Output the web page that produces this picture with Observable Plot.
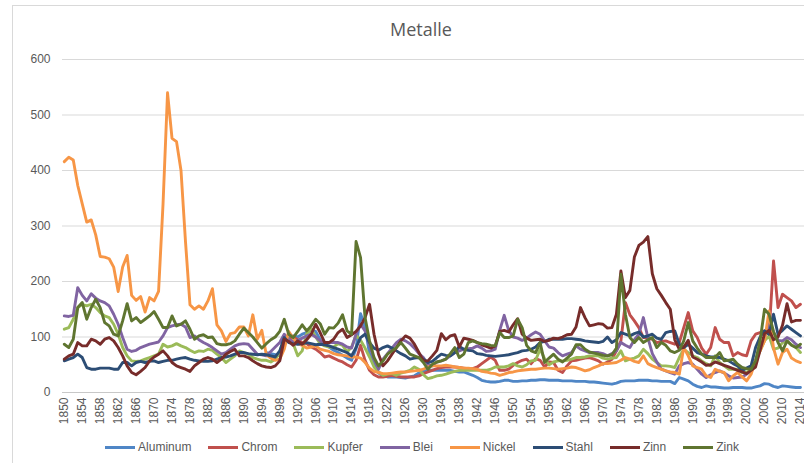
<!DOCTYPE html>
<html>
<head>
<meta charset="utf-8">
<script src="https://cdn.jsdelivr.net/npm/d3@7"></script>
<script src="https://cdn.jsdelivr.net/npm/@observablehq/plot@0.6"></script>
<style>
  body { margin: 0; background: #fff; }
  #chart { position: relative; width: 804px; height: 463px; overflow: hidden;
           font-family: "Liberation Sans", Arial, sans-serif; color: #595959; background: #fff; }
  #frame { position: absolute; left: 12px; top: 5px; width: 900px; height: 600px;
           border: 1px solid #d9d9d9; box-sizing: border-box; }
  #title { position: absolute; left: 0; width: 842px; top: 17px; text-align: center;
           font-family: "Open Sans", sans-serif; font-size: 18px; line-height: 24px; color: #595959; }
  #plot { position: absolute; left: 0; top: 0; }
  #legend { position: absolute; left: 0; width: 844px; top: 439px; display: flex;
            justify-content: center; gap: 17px; font-size: 12px; line-height: 16px; }
  .item { display: flex; align-items: center; gap: 3px; }
  .swatch { width: 30px; height: 3px; }
</style>
</head>
<body>
<div id="chart">
  <div id="frame"></div>
  <div id="title">Metalle</div>
  <div id="plot"></div>
  <div id="legend"></div>
</div>
<script>
// Price index per metal, one value per year.
const metals = ["Aluminum", "Chrom", "Kupfer", "Blei", "Nickel", "Stahl", "Zinn", "Zink"];
const colors = ["#4f86c6", "#c0504d", "#9bbb59", "#8064a2", "#f79646", "#2c4d75", "#772c2a", "#5f7530"];
const startYears = [1895, 1900, 1850, 1850, 1850, 1850, 1850, 1850];

const aluminum = [
  72, 70, 68, 66, 90,
  100, 102, 100, 105, 108, 112, 110, 95, 88, 82,
  76, 72, 67, 62, 58, 79, 142, 118, 70, 52,
  35, 30, 28, 28, 28, 27, 26, 28, 30, 35,
  39, 40, 40, 40, 40, 40, 40, 38, 37, 37,
  34, 31, 27, 22, 20, 19, 19, 20, 22, 22,
  20, 20, 21, 21, 22, 22, 23, 23, 22, 22,
  22, 21, 21, 21, 20, 20, 20, 19, 19, 18,
  17, 16, 15, 17, 20, 21, 21, 21, 22, 22,
  22, 21, 21, 20, 20, 20, 16, 27, 24, 21,
  15, 11, 9, 12, 10, 10, 9, 8, 8, 9,
  9, 9, 8, 8, 10, 12, 16, 15, 11, 9,
  12, 11, 10, 9, 9
];
const chrom = [
  95, 100, 95, 90, 88, 82, 78, 72, 64, 66,
  62, 58, 55, 50, 46, 58, 85, 58, 40, 32,
  28, 28, 29, 31, 29, 28, 28, 28, 28, 30,
  34, 37, 40, 43, 45, 46, 46, 46, 45, 44,
  43, 43, 46, 52, 58, 64, 58, 40, 40, 42,
  49, 54, 58, 60, 52, 61, 58, 46, 55, 54,
  40, 36, 48, 57, 58, 60, 62, 63, 60, 57,
  51, 55, 60, 75, 93, 162, 140, 129, 117, 99,
  98, 96, 90, 92, 93, 90, 87, 90, 117, 144,
  111, 99, 80, 69, 81, 117, 96, 90, 90, 66,
  72, 68, 66, 93, 105, 108, 111, 105, 237, 153,
  177, 171, 165, 153, 159
];
const kupfer = [
  114, 117, 132, 153, 159, 156, 159, 153, 144, 138,
  135, 123, 105, 81, 66, 57, 56, 57, 60, 63,
  66, 69, 87, 82, 84, 88, 84, 81, 76, 72,
  75, 74, 78, 76, 69, 63, 54, 60, 66, 75,
  72, 69, 63, 60, 58, 58, 55, 60, 72, 100,
  95, 88, 66, 75, 106, 115, 100, 88, 84, 82,
  82, 88, 85, 73, 82, 103, 94, 80, 64, 46,
  37, 31, 33, 34, 31, 35, 37, 40, 46, 42,
  32, 25, 27, 30, 31, 33, 36, 38, 40, 40,
  40, 40, 40, 40, 40, 42, 46, 46, 46, 48,
  52, 48, 46, 50, 57, 58, 78, 61, 50, 55,
  57, 57, 58, 60, 63, 63, 64, 66, 66, 66,
  62, 60, 62, 63, 75, 57, 60, 62, 66, 78,
  70, 60, 54, 48, 48, 47, 45, 63, 78, 72,
  66, 63, 57, 52, 48, 66, 54, 48, 42, 42,
  42, 36, 37, 39, 57, 75, 93, 102, 78, 80,
  90, 93, 86, 81, 72
];
const blei = [
  138, 137, 139, 189, 175, 165, 178, 170, 165, 162,
  156, 141, 123, 99, 78, 74, 76, 81, 84, 87,
  89, 91, 102, 117, 120, 122, 123, 118, 99, 102,
  95, 90, 86, 81, 75, 69, 72, 78, 84, 87,
  88, 87, 78, 69, 68, 66, 74, 82, 90, 105,
  95, 93, 94, 98, 102, 105, 100, 93, 90, 90,
  90, 90, 87, 82, 80, 105, 123, 111, 85, 60,
  42, 60, 70, 80, 90, 96, 93, 88, 80, 70,
  63, 50, 48, 55, 57, 60, 66, 72, 75, 78,
  79, 80, 84, 80, 74, 75, 78, 112, 139, 112,
  100, 98, 94, 98, 104, 109, 105, 93, 82, 80,
  72, 66, 69, 72, 84, 78, 75, 72, 72, 72,
  70, 66, 70, 75, 90, 85, 81, 95, 105, 135,
  99, 70, 55, 42, 39, 36, 33, 48, 52, 54,
  51, 42, 33, 27, 32, 36, 39, 35, 30, 26,
  27, 28, 33, 39, 57, 82, 99, 123, 108, 94,
  93, 99, 95, 87, 81
];
const nickel = [
  416, 424, 419, 373, 340, 307, 311, 284, 245, 244,
  241, 226, 182, 226, 247, 175, 166, 173, 145, 171,
  165, 182, 340, 540, 458, 452, 400, 272, 158, 150,
  156, 150, 165, 187, 122, 111, 92, 106, 108, 118,
  118, 102, 140, 96, 112, 68, 62, 58, 60, 78,
  110, 98, 88, 85, 80, 82, 84, 78, 76, 74,
  70, 68, 67, 66, 64, 64, 62, 54, 44, 38,
  36, 34, 34, 35, 36, 37, 37, 38, 39, 40,
  42, 46, 48, 48, 48, 49, 48, 46, 45, 44,
  44, 43, 42, 38, 37, 35, 34, 31, 33, 36,
  37, 39, 40, 41, 42, 42, 43, 44, 44, 43,
  42, 43, 44, 46, 45, 42, 39, 41, 45, 48,
  52, 52, 53, 54, 58, 63, 60, 56, 54, 66,
  52, 48, 45, 42, 39, 37, 36, 33, 81, 66,
  48, 45, 42, 30, 27, 42, 38, 36, 21, 30,
  36, 28, 21, 33, 57, 75, 93, 147, 80, 51,
  72, 78, 62, 57, 54
];
const stahl = [
  57, 60, 63, 69, 63, 45, 42, 42, 44, 44,
  44, 42, 42, 54, 54, 48, 54, 56, 54, 56,
  57, 54, 56, 58, 58, 60, 62, 63, 60, 58,
  57, 56, 56, 57, 60, 63, 64, 66, 69, 72,
  72, 70, 69, 68, 69, 68, 66, 64, 75, 99,
  90, 88, 87, 88, 90, 88, 86, 87, 86, 84,
  81, 78, 75, 72, 66, 81, 99, 105, 90, 80,
  76, 81, 84, 80, 75, 70, 66, 60, 62, 63,
  60, 54, 56, 63, 69, 67, 66, 72, 83, 78,
  76, 75, 70, 69, 67, 66, 65, 66, 67, 68,
  70, 72, 75, 76, 78, 82, 90, 92, 96, 96,
  96, 96, 97, 97, 96, 95, 93, 92, 91, 90,
  92, 100, 90, 95, 108, 105, 102, 106, 109, 100,
  102, 105, 98, 96, 108, 110, 111, 87, 81, 87,
  80, 72, 69, 66, 64, 64, 63, 60, 57, 52,
  48, 39, 44, 48, 81, 100, 111, 105, 141, 105,
  112, 120, 114, 108, 102
];
const zinn = [
  60, 66, 69, 90, 84, 84, 96, 93, 87, 96,
  99, 93, 81, 66, 48, 36, 32, 38, 45, 57,
  64, 69, 75, 66, 54, 48, 45, 42, 38, 48,
  54, 60, 63, 60, 54, 60, 69, 74, 78, 66,
  66, 63, 57, 52, 48, 46, 45, 48, 57, 96,
  92, 85, 93, 87, 95, 105, 123, 108, 90, 90,
  96, 108, 114, 99, 104, 110, 120, 135, 159, 105,
  69, 48, 57, 69, 81, 93, 102, 98, 87, 72,
  57, 57, 66, 76, 106, 95, 102, 104, 82, 98,
  96, 94, 90, 86, 83, 80, 84, 110, 112, 109,
  122, 133, 105, 98, 94, 95, 96, 92, 94, 98,
  97, 100, 104, 105, 118, 153, 135, 120, 122, 124,
  123, 116, 117, 141, 219, 171, 184, 244, 265, 271,
  281, 214, 187, 175, 162, 150, 95, 78, 82, 94,
  64, 60, 55, 49, 50, 55, 52, 49, 46, 43,
  40, 37, 34, 40, 46, 76, 106, 112, 95, 100,
  121, 160, 127, 130, 130
];
const zink = [
  87, 81, 96, 153, 162, 132, 153, 168, 153, 126,
  120, 105, 102, 129, 160, 129, 135, 126, 132, 138,
  146, 132, 117, 117, 138, 120, 123, 129, 114, 96,
  102, 104, 99, 100, 88, 86, 86, 88, 93, 105,
  116, 108, 100, 90, 80, 88, 95, 100, 110, 132,
  105, 99, 110, 122, 111, 120, 132, 124, 105, 117,
  116, 125, 140, 111, 105, 272, 243, 135, 93, 63,
  48, 57, 69, 75, 81, 90, 80, 69, 66, 63,
  54, 42, 51, 55, 57, 60, 70, 81, 63, 69,
  90, 93, 90, 88, 87, 85, 84, 108, 99, 99,
  102, 132, 117, 85, 75, 72, 90, 54, 62, 69,
  60, 55, 62, 69, 86, 86, 78, 73, 71, 69,
  67, 66, 68, 80, 213, 141, 99, 90, 99, 90,
  95, 99, 81, 90, 85, 75, 72, 76, 93, 126,
  93, 80, 69, 63, 63, 63, 72, 57, 58, 60,
  51, 45, 43, 42, 57, 93, 150, 141, 110, 90,
  75, 93, 85, 81, 87
];

const seriesValues = [aluminum, chrom, kupfer, blei, nickel, stahl, zinn, zink];
const yTicks = [0, 100, 200, 300, 400, 500, 600];
const xTicks = d3.range(1850, 2015, 4);

// Long table: one row per metal and year.
const rows = metals.flatMap((metal, k) =>
  seriesValues[k].map((value, i) => ({ metal, year: startYears[k] + i, value }))
);

const chart = Plot.plot({
  width: 804,
  height: 430,
  marginLeft: 62,
  marginRight: 0,
  marginTop: 59,
  marginBottom: 38,
  style: { fontFamily: "'Liberation Sans', Arial, sans-serif", fontSize: "12px", color: "#595959", background: "transparent" },
  x: { domain: [1849.6, 2014.9], label: null },
  y: { domain: [0, 600], label: null },
  color: { domain: metals, range: colors },
  marks: [
    Plot.ruleY(yTicks, { stroke: d => d === 0 ? "#c8c8c8" : "#d9d9d9", strokeWidth: 1 }),
    Plot.axisY(yTicks, { tickSize: 0, tickPadding: 12, label: null }),
    Plot.axisX(xTicks, { tickSize: 0, tickPadding: 5, tickRotate: -90, tickFormat: d => String(d), label: null }),
    Plot.line(rows, {
      x: "year", y: "value", z: "metal", stroke: "metal",
      strokeWidth: 2.9, strokeLinejoin: "round", strokeLinecap: "round"
    })
  ]
});
document.getElementById("plot").appendChild(chart);

// Legend row under the plot
const legend = document.getElementById("legend");
metals.forEach((m, k) => {
  const item = document.createElement("div");
  item.className = "item";
  const sw = document.createElement("span");
  sw.className = "swatch";
  sw.style.background = colors[k];
  const label = document.createElement("span");
  label.textContent = m;
  item.append(sw, label);
  legend.appendChild(item);
});
</script>
</body>
</html>
